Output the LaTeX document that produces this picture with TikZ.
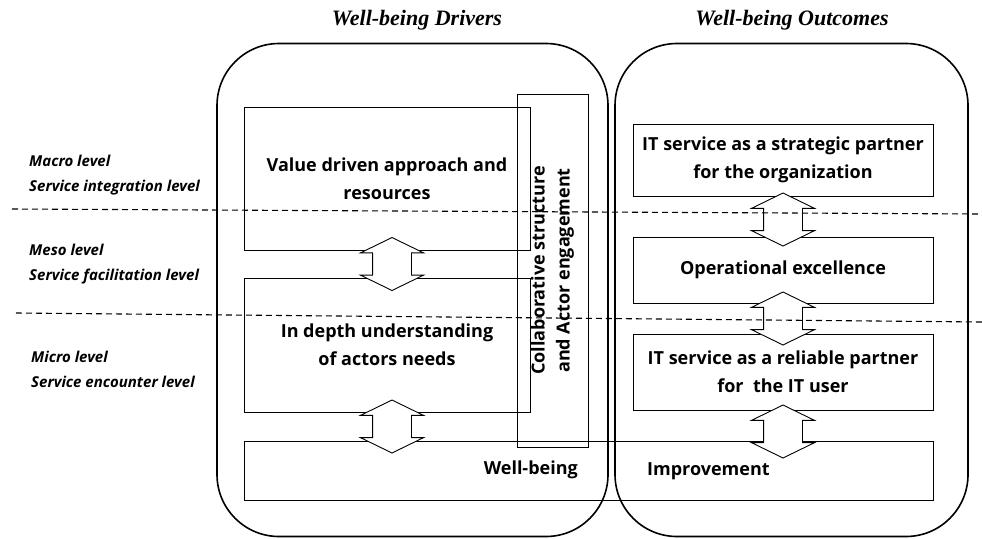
\documentclass[tikz,border=0pt]{standalone}
\usepackage{fontspec}
\setmainfont{Open Sans}
\newfontfamily\headfont{Liberation Serif}
\usetikzlibrary{shapes,arrows,calc}
\tikzstyle{frame} = [rectangle, draw, line width=1.6pt, rounded corners=62pt, inner sep=0pt]
\tikzstyle{block} = [rectangle, draw, line width=0.9pt, inner sep=0pt, align=center, font=\fontsize{18}{28}\selectfont\bfseries]
\tikzstyle{twoway} = [double arrow, draw, fill=white, line width=0.9pt, rotate=90, minimum height=53pt, minimum width=62pt, inner xsep=0pt, inner ysep=19pt, double arrow head extend=12pt, double arrow tip angle=128]
\tikzstyle{level} = [anchor=west, align=left, inner sep=0pt, font=\fontsize{15}{25}\selectfont\bfseries\itshape]
\tikzstyle{title} = [inner sep=0pt, font=\headfont\fontsize{22}{26}\selectfont\bfseries\itshape]
\tikzstyle{tag} = [inner sep=0pt, font=\fontsize{18}{22}\selectfont\bfseries]
\tikzstyle{divider} = [draw, line width=1.1pt, dash pattern=on 6pt off 4pt]

\begin{document}
\begin{tikzpicture}[x=1pt, y=-1pt]
    \useasboundingbox (0,0) rectangle (982,538);

    % the two columns
    \node [title] (drivers) at (417,20) {Well-being Drivers};
    \node [title] (outcomes) at (792,20) {Well-being Outcomes};
    \node [frame, minimum width=391pt, minimum height=493pt] (left) at (412.5,290) {};
    \node [frame, minimum width=353pt, minimum height=493pt] (right) at (791.5,290) {};

    % drivers
    \node [block, minimum width=286pt, minimum height=143pt] (value) at (387,178.5) {Value driven approach and\\resources};
    \node [block, minimum width=286pt, minimum height=134pt] (depth) at (387,345) {In depth understanding\\of actors needs};
    \node [block, rotate=90, minimum width=353pt, minimum height=71pt, font=\fontsize{18}{25}\selectfont\bfseries] (collab) at (552.5,270.5) {Collaborative structure\\and Actor engagement};

    % outcomes
    \node [block, minimum width=300pt, minimum height=72pt] (strategic) at (783,160) {IT service as a strategic partner\\for the organization};
    \node [block, minimum width=300pt, minimum height=66pt] (excel) at (783,270) {Operational excellence};
    \node [block, minimum width=300pt, minimum height=76pt] (reliable) at (783,372) {IT service as a reliable partner\\for\ \ the IT user};

    % bar across both columns
    \node [block, minimum width=689pt, minimum height=59pt] (bar) at (588.5,470.5) {};
    \node [tag, anchor=east] (wellbeing) at (578,470) {Well-being};
    \node [tag, anchor=west] (improve) at (647,471) {Improvement};

    % two-way links (shift first, the style turns the arrow upright)
    \node [xshift=5pt, twoway] (l1) at ($(value.south)!0.5!(depth.north)$) {};
    \node [xshift=5pt, twoway] (l2) at ($(depth.south)!0.5!(bar.north -| depth.south)$) {};
    \node [yshift=-3pt, twoway] (r1) at ($(strategic.south)!0.5!(excel.north)$) {};
    \node [twoway] (r2) at ($(excel.south)!0.5!(reliable.north)$) {};
    \node [yshift=-6pt, twoway] (r3) at ($(reliable.south)!0.5!(bar.north -| reliable.south)$) {};

    % levels
    \node [level] (macro) at (29,175.5) {Macro level\\Service integration level};
    \node [level] (meso) at (29,264) {Meso level\\Service facilitation level};
    \node [level] (micro) at (31,369) {Micro level\\Service encounter level};
    \path [divider] (12,209) -- (982,214);
    \path [divider] (16,313) -- (982,322);
\end{tikzpicture}
\end{document}
